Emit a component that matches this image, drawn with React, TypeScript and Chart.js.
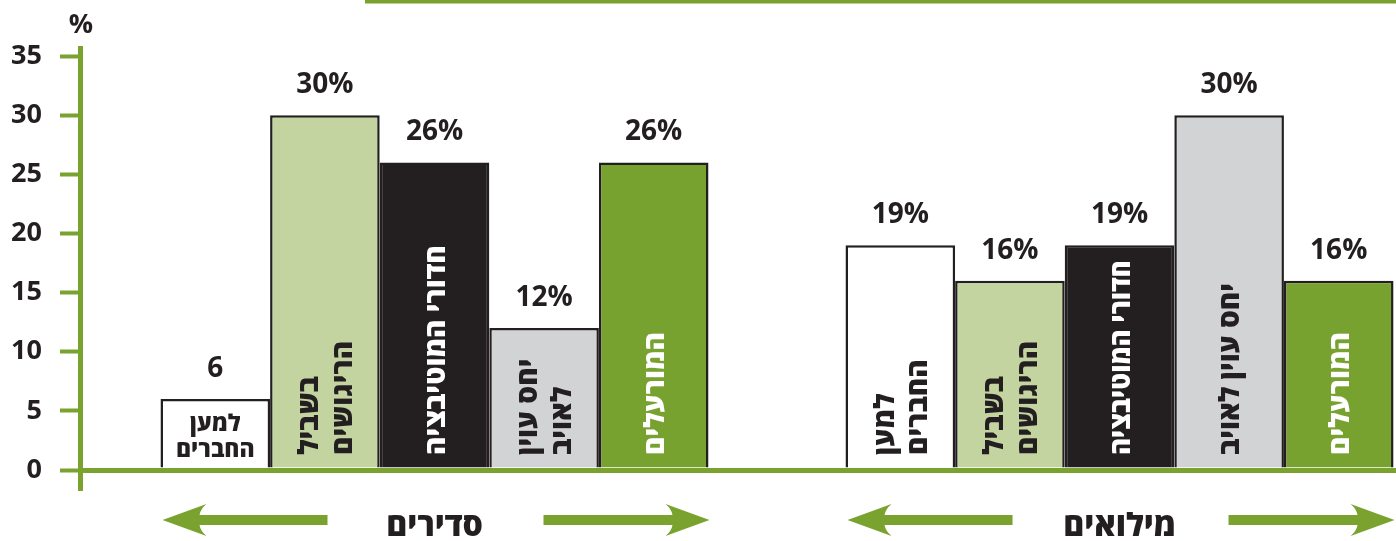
import React, { useEffect, useRef } from 'react';
import { Chart, registerables } from 'chart.js';

Chart.register(...registerables);

// ---------- data ----------
const groups = ['סדירים', 'מילואים'];
const barTypes = ['למען החברים', 'בשביל הריגושים', 'חדורי המוטיבציה', 'יחס עוין לאויב', 'המורעלים'];
const regularValues = [6, 30, 26, 12, 26];
const reserveValues = [19, 16, 19, 30, 16];
const regularValueLabels = ['6', '30%', '26%', '12%', '26%'];
const reserveValueLabels = ['19%', '16%', '19%', '30%', '16%'];
const regularBarText = [['למען', 'החברים'], ['בשביל', 'הריגושים'], ['חדורי המוטיבציה'], ['יחס עוין', 'לאויב'], ['המורעלים']];
const reserveBarText = [['למען', 'החברים'], ['בשביל', 'הריגושים'], ['חדורי המוטיבציה'], ['יחס עוין לאויב'], ['המורעלים']];
const yTicks = [0, 5, 10, 15, 20, 25, 30, 35];
const yUnit = '%';

const groupValues = [regularValues, reserveValues];
const groupValueLabels = [regularValueLabels, reserveValueLabels];
const groupBarText = [regularBarText, reserveBarText];

// ---------- styles ----------
const barColors = ['#ffffff', '#c3d4a0', '#231f20', '#d1d3d4', '#78a22f'];
const barTextColors = ['#231f20', '#231f20', '#ffffff', '#231f20', '#ffffff'];
const GREEN = '#79a22e';
const INK = '#231f20';
const FONT = '"Open Sans", "DejaVu Sans", sans-serif';

function drawArrow(ctx: CanvasRenderingContext2D, fromX: number, tipX: number, y: number) {
  const d = Math.sign(tipX - fromX);
  const hl = 44, hh = 16, sh = 5, neck = 37;
  ctx.beginPath();
  ctx.moveTo(fromX, y - sh);
  ctx.lineTo(tipX - d * neck, y - sh);
  ctx.quadraticCurveTo(tipX - d * (neck + 1), y - sh - 6, tipX - d * hl, y - hh);
  ctx.lineTo(tipX, y);
  ctx.lineTo(tipX - d * hl, y + hh);
  ctx.quadraticCurveTo(tipX - d * (neck + 1), y + sh + 6, tipX - d * neck, y + sh);
  ctx.lineTo(fromX, y + sh);
  ctx.closePath();
  ctx.fill();
}

const decorPlugin = {
  id: 'decor',
  afterDraw(chart: any) {
    const ctx: CanvasRenderingContext2D = chart.ctx;
    const xs = chart.scales.x;
    const ys = chart.scales.y;
    const base = ys.getPixelForValue(0);
    ctx.save();

    // top decorative line
    ctx.fillStyle = GREEN;
    ctx.fillRect(365, 0, chart.width - 365, 3.5);

    // unit label
    ctx.fillStyle = INK;
    ctx.font = `700 27px ${FONT}`;
    ctx.textAlign = 'center';
    ctx.textBaseline = 'alphabetic';
    ctx.fillText(yUnit, chart.chartArea.left + 1, 33);

    chart.data.datasets.forEach((_ds: any, di: number) => {
      const meta = chart.getDatasetMeta(di);
      meta.data.forEach((el: any, gi: number) => {
        const p = el.getProps(['x', 'y', 'width'], true);
        // value label
        ctx.fillStyle = INK;
        ctx.font = `700 28px ${FONT}`;
        ctx.textAlign = 'center';
        ctx.textBaseline = 'alphabetic';
        ctx.fillText(groupValueLabels[gi][di], p.x, p.y - 22);

        // inner label
        const lines: string[] = groupBarText[gi][di];
        ctx.fillStyle = barTextColors[di];
        const rs = 28;
        ctx.font = `800 ${rs}px ${FONT}`;
        const maxW = Math.max(...lines.map((l) => ctx.measureText(l).width));
        const barH = base - p.y;
        const avail = barH - 30;
        if (maxW <= avail * 1.15) {
          const k = Math.min(1, avail / maxW);
          ctx.save();
          ctx.translate(p.x, base - 15);
          ctx.rotate(-Math.PI / 2);
          ctx.scale(k, 1);
          ctx.textAlign = 'left';
          const lh = rs * 1.2;
          lines.forEach((l, i) => {
            const off = (i - (lines.length - 1) / 2) * lh + rs * 0.36;
            ctx.fillText(l, 0, off);
          });
          ctx.restore();
        } else {
          const hs = 23;
          ctx.font = `800 ${hs}px ${FONT}`;
          ctx.textAlign = 'center';
          const lh = 26;
          lines.forEach((l, i) => {
            ctx.fillText(l, p.x, base - 13 - (lines.length - 1 - i) * lh);
          });
        }
      });
    });

    // group labels with arrows
    groups.forEach((g, gi) => {
      const cx = xs.getPixelForValue(gi);
      ctx.fillStyle = INK;
      ctx.font = `800 32px ${FONT}`;
      ctx.textAlign = 'center';
      ctx.textBaseline = 'alphabetic';
      ctx.fillText(g, cx, base + 66);
      ctx.fillStyle = GREEN;
      drawArrow(ctx, cx - 107, cx - 272, base + 50);
      drawArrow(ctx, cx + 109, cx + 275, base + 50);
    });

    ctx.restore();
  },
};

export default function App() {
  const ref = useRef<HTMLCanvasElement>(null);

  useEffect(() => {
    if (!ref.current) return;
    const chart = new Chart(ref.current, {
      type: 'bar',
      data: {
        datasets: barTypes.map((label, di) => ({
          label,
          data: groupValues.map((vals, gi) => ({ x: gi, y: vals[di] })),
          backgroundColor: barColors[di],
          borderColor: INK,
          borderWidth: 2.5,
          borderSkipped: 'start',
          categoryPercentage: 0.8,
          barPercentage: 1,
        })),
      } as any,
      options: {
        animation: false,
        responsive: true,
        maintainAspectRatio: false,
        layout: { padding: { top: 48, bottom: 53, left: 0, right: 0 } },
        plugins: { legend: { display: false }, tooltip: { enabled: false } },
        scales: {
          x: {
            type: 'linear',
            display: false,
            offset: false,
            bounds: 'data',
            grid: { offset: false },
            min: -0.5175,
            max: 1.4036,
            ticks: { stepSize: 1, includeBounds: false },
            afterBuildTicks: (s: any) => {
              s.ticks = groups.map((_, i) => ({ value: i }));
            },
          },
          y: {
            min: -1.52,
            max: 35.68,
            z: 1,
            afterBuildTicks: (s: any) => {
              s.ticks = yTicks.map((v) => ({ value: v }));
            },
            afterFit: (s: any) => {
              s.width = 80;
            },
            border: { display: true, color: GREEN, width: 5 },
            grid: {
              drawOnChartArea: true,
              drawTicks: true,
              tickLength: 20,
              tickWidth: 4,
              tickColor: GREEN,
              color: (c: any) => (c.tick && c.tick.value === 0 ? GREEN : 'rgba(0,0,0,0)'),
              lineWidth: (c: any) => (c.tick && c.tick.value === 0 ? 5 : 1),
            },
            ticks: {
              padding: 18,
              color: INK,
              font: { family: FONT, size: 27, weight: 'bold' },
            },
          },
        } as any,
      },
      plugins: [decorPlugin],
    });
    return () => chart.destroy();
  }, []);

  return (
    <div style={{ position: 'absolute', left: 0, top: 0, width: 1396, height: 541 }}>
      <canvas ref={ref} />
    </div>
  );
}
